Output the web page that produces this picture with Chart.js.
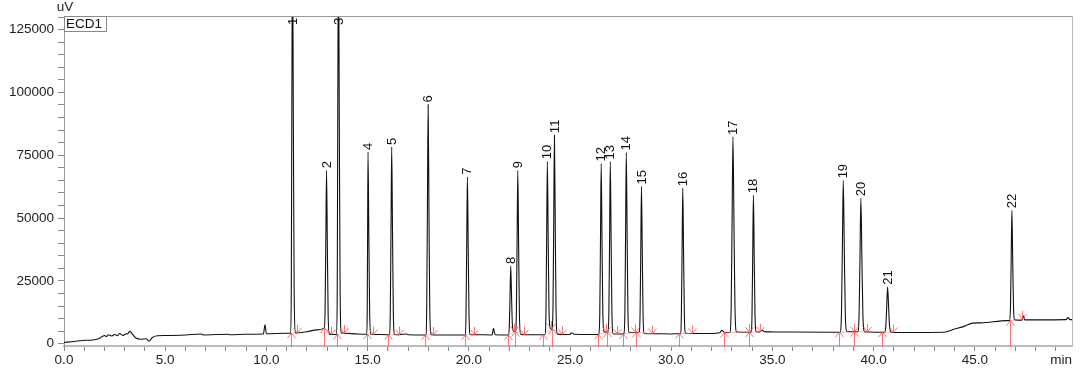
<!DOCTYPE html>
<html>
<head>
<meta charset="utf-8">
<script src="https://cdn.jsdelivr.net/npm/chart.js@4.4.1/dist/chart.umd.min.js"></script>
<style>
  html, body { margin: 0; padding: 0; background: #fff; }
  #wrap { width: 1080px; height: 380px; }
</style>
</head>
<body>
<div id="wrap"><canvas id="chrom" width="1080" height="380"></canvas></div>
<script>
// detector trace (min, uV)
const traceMin = [
  0.0, 0.5, 0.9, 1.4, 1.7, 1.9, 2.0, 2.1, 2.2, 2.35, 2.5, 2.65, 2.75, 2.9, 3.05, 3.15, 3.25, 3.4, 3.55, 3.8,
  4.05, 4.2, 4.35, 4.6, 5.0, 6.0, 6.8, 6.9, 8.1, 8.2, 9.0, 9.85, 9.93, 10.0, 11.0,
  11.2, 11.23, 11.255, 11.29, 11.33, 11.37, 11.43, 11.49,              // 1
  12.0, 12.5,
  12.86, 12.9, 12.935, 12.97, 13.01, 13.05, 13.11, 13.19,              // 2
  13.47, 13.5, 13.525, 13.56, 13.6, 13.64, 13.7, 13.85,                // 3
  14.5,
  14.96, 14.98, 15.0, 15.02, 15.06, 15.1, 15.16, 15.25,                // 4
  16.02, 16.07, 16.12, 16.155, 16.19, 16.23, 16.27, 16.33, 16.57,      // 5
  16.93, 17.0,
  17.84, 17.87, 17.92, 17.955, 17.99, 18.03, 18.07, 18.13, 18.22,      // 6
  19.0,
  19.8, 19.81, 19.86, 19.895, 19.93, 19.97, 20.01, 20.07, 20.26,       // 7
  21.15, 21.22, 21.3,
  21.95, 22.0, 22.035, 22.07, 22.11, 22.15, 22.21, 22.24,              // 8
  22.29, 22.3, 22.35, 22.385, 22.42, 22.46, 22.5, 22.56, 22.75,        // 9
  23.66, 23.76, 23.81, 23.845, 23.88, 23.92, 23.96, 24.02, 24.06,      // 10
  24.1, 24.11, 24.16, 24.195, 24.23, 24.27, 24.31, 24.37, 24.58,       // 11
  25.0, 25.06, 25.2, 26.0,
  26.38, 26.42, 26.47, 26.505, 26.54, 26.58, 26.62, 26.68, 26.79,      // 12
  26.82, 26.87, 26.92, 26.955, 26.99, 27.03, 27.07, 27.13, 27.32,      // 13
  27.62, 27.66, 27.71, 27.745, 27.78, 27.82, 27.86, 27.92, 28.22,      // 14
  28.27, 28.41, 28.46, 28.495, 28.53, 28.57, 28.61, 28.67, 29.06,      // 15
  30.0,
  30.37, 30.45, 30.5, 30.535, 30.57, 30.61, 30.65, 30.71, 31.03,       // 16
  32.0, 32.4, 32.5, 32.6,
  32.63, 32.89, 32.96, 33.005, 33.05, 33.1, 33.15, 33.23, 33.83,       // 17
  33.94, 33.99, 34.025, 34.06, 34.1, 34.14, 34.2, 34.37,               // 18
  34.49, 34.6, 35.0, 38.0,
  38.28, 38.34, 38.41, 38.455, 38.5, 38.55, 38.6, 38.68, 39.02,        // 19
  39.21, 39.28, 39.325, 39.37, 39.42, 39.47, 39.55, 39.68,             // 20
  40.0,
  40.42, 40.53, 40.6, 40.645, 40.69, 40.74, 40.79, 40.87, 40.97,       // 21
  43.5, 43.9, 44.5, 44.9, 45.3, 46.6,
  46.72, 46.76, 46.795, 46.83, 46.87, 46.91, 46.97, 47.33,             // 22
  47.4, 47.46, 48.0, 49.5, 49.6, 49.7, 49.8
];
const traceUV = [
  500, 900, 1300, 1500, 2000, 2900, 3300, 2900, 3600, 3100, 3700, 3200, 4100, 3300, 3900, 4000, 4900, 3600, 2300, 1800,
  2000, 1000, 2400, 3200, 3300, 3500, 3900, 3500, 3800, 3600, 3800, 3900, 7500, 4000, 4200,
  4200, 22900, 89900, 160000, 89900, 22900, 4400, 4300,
  4800, 5500,
  6300, 13800, 40800, 69000, 39600, 11500, 3800, 3700,
  3700, 22500, 89700, 160000, 90000, 23000, 4400, 4200,
  3900,
  3800, 12500, 43700, 76300, 43600, 12400, 3800, 3700,
  3600, 3600, 12600, 44700, 78300, 44700, 12600, 3700, 3600,
  3900, 3600,
  3500, 3500, 14500, 53900, 95200, 53900, 14500, 3700, 3500,
  3500,
  3500, 3500, 11000, 38100, 66400, 38100, 11000, 3700, 3600,
  3500, 6100, 3600,
  3500, 6800, 18600, 30900, 19200, 8000, 5000, 4900,
  4800, 4800, 12500, 40700, 69000, 39600, 11500, 3800, 3600,
  3600, 3600, 11900, 41600, 72600, 42600, 14000, 6200, 5900,
  5800, 5900, 15200, 48400, 83000, 47000, 13500, 3900, 3700,
  3700, 4400, 3800, 3700,
  3700, 3800, 11900, 41100, 71700, 41500, 12300, 4800, 4600,
  4600, 4700, 12800, 41900, 72500, 41600, 12200, 4000, 3900,
  3900, 4000, 12600, 43700, 76100, 44300, 13100, 4600, 4500,
  4500, 4600, 11600, 36600, 62600, 36200, 11000, 4100, 4000,
  3900,
  4000, 4000, 11000, 35800, 61900, 35900, 11100, 4200, 4100,
  4100, 4400, 5300, 4700,
  4500, 4500, 13800, 47300, 82300, 47300, 13900, 4700, 4600,
  4600, 11100, 34600, 59100, 34600, 11200, 4800, 4700,
  5400, 4800, 4700, 4600,
  4600, 4600, 11800, 37800, 65000, 37900, 11900, 4900, 4800,
  4800, 11200, 34000, 57900, 33900, 11100, 4800, 4700,
  4600,
  4600, 4600, 6800, 14600, 22700, 14500, 6700, 4600, 4500,
  4600, 5600, 7000, 8200, 8300, 9200,
  9200, 14500, 33400, 53100, 33500, 14600, 9500, 9400,
  11000, 9500, 9500, 9600, 10400, 9600, 9600
];

// labelled peaks
const peakLabels = ['1','2','3','4','5','6','7','8','9','10','11','12','13','14','15','16','17','18','19','20','21','22'];
const peakTime   = [11.29, 12.97, 13.56, 15.02, 16.19, 17.99, 19.93, 22.07, 22.42, 23.88, 24.23,
                    26.54, 26.99, 27.78, 28.53, 30.57, 33.05, 34.06, 38.5, 39.37, 40.69, 46.83];
const peakHeight = [160000, 69000, 160000, 76300, 78300, 95200, 66400, 30900, 69000, 72600, 83000,
                    71700, 72500, 76100, 62600, 61900, 82300, 59100, 65000, 57900, 22700, 53100];
// integration start / end marks
const peakStart = [11.2, 12.86, 13.47, 14.96, 16.02, 17.84, 19.8, 21.95, 22.29, 23.66, 24.1,
                   26.38, 26.82, 27.62, 28.27, 30.37, 32.63, 33.83, 38.28, 39.02, 40.42, 46.72];
const peakEnd   = [11.49, 13.19, 13.85, 15.25, 16.57, 18.22, 20.26, 22.24, 22.75, 24.06, 24.58,
                   26.79, 27.32, 28.22, 29.06, 31.03, 33.83, 34.37, 39.02, 39.68, 40.97, 47.35];

const xTickLabels = ['0.0', '5.0', '10.0', '15.0', '20.0', '25.0', '30.0', '35.0', '40.0', '45.0'];
const yTickLabels = ['0', '25000', '50000', '75000', '100000', '125000'];

const FONT = '"Liberation Sans", Arial, sans-serif';

function levelAt(t) {
  for (let i = 1; i < traceMin.length; i++) {
    if (t <= traceMin[i]) {
      const f = (t - traceMin[i - 1]) / (traceMin[i] - traceMin[i - 1]);
      return traceUV[i - 1] + f * (traceUV[i] - traceUV[i - 1]);
    }
  }
  return traceUV[traceUV.length - 1];
}

const decor = {
  id: 'decor',
  afterDatasetsDraw(chart) {
    const { ctx, chartArea: a, scales: { x, y } } = chart;
    ctx.save();
    ctx.lineWidth = 1;
    for (let i = 0; i < peakStart.length; i++) {
      const sx = Math.round(x.getPixelForValue(peakStart[i])) + 0.5;
      const sy = y.getPixelForValue(levelAt(peakStart[i]));
      const ex = Math.round(x.getPixelForValue(peakEnd[i])) + 0.5;
      const ey = y.getPixelForValue(levelAt(peakEnd[i]));
      // drawn baseline
      ctx.strokeStyle = 'rgba(255, 120, 120, 0.55)';
      ctx.beginPath(); ctx.moveTo(sx, sy); ctx.lineTo(ex, ey); ctx.stroke();
      ctx.strokeStyle = 'rgba(255, 90, 90, 0.85)';
      // up arrow at start
      ctx.beginPath();
      ctx.moveTo(sx, a.bottom + 1); ctx.lineTo(sx, sy);
      ctx.moveTo(sx - 4, sy + 5); ctx.lineTo(sx, sy); ctx.lineTo(sx + 4, sy + 5);
      ctx.stroke();
      // down arrow at end
      ctx.beginPath();
      ctx.moveTo(ex, ey - 8); ctx.lineTo(ex, ey);
      ctx.moveTo(ex - 4, ey - 5); ctx.lineTo(ex, ey); ctx.lineTo(ex + 4, ey - 5);
      ctx.stroke();
    }

    // peak numbers, rotated
    ctx.fillStyle = '#111';
    ctx.font = '13px ' + FONT;
    ctx.textAlign = 'left';
    ctx.textBaseline = 'middle';
    for (let i = 0; i < peakLabels.length; i++) {
      const px = x.getPixelForValue(peakTime[i]);
      const py = Math.max(y.getPixelForValue(peakHeight[i]) - 2, a.top + 9);
      ctx.save();
      ctx.translate(px + 0.5, py);
      ctx.rotate(-Math.PI / 2);
      ctx.fillText(peakLabels[i], 0, 0);
      ctx.restore();
    }
    ctx.restore();
  },
  afterDraw(chart) {
    const { ctx, chartArea: a } = chart;
    ctx.save();
    // frame top / right
    ctx.lineWidth = 1;
    ctx.strokeStyle = '#999';
    ctx.beginPath();
    ctx.moveTo(a.left, a.top + 0.5); ctx.lineTo(a.right + 0.5, a.top + 0.5);
    ctx.stroke();
    ctx.strokeStyle = '#bbb';
    ctx.beginPath();
    ctx.moveTo(a.right + 0.5, a.top); ctx.lineTo(a.right + 0.5, a.bottom);
    ctx.stroke();

    // ECD1 box
    ctx.strokeStyle = '#888';
    ctx.strokeRect(a.left + 0.5, a.top + 0.5, 42, 15);
    ctx.fillStyle = '#111';
    ctx.font = '13.5px ' + FONT;
    ctx.textAlign = 'left';
    ctx.textBaseline = 'middle';
    ctx.fillText('ECD1', a.left + 2, a.top + 8.5);

    // unit labels
    ctx.fillStyle = '#222';
    ctx.textAlign = 'center';
    ctx.textBaseline = 'top';
    ctx.fillText('uV', a.left + 1, 1);
    ctx.textAlign = 'right';
    ctx.fillText('min', a.right, a.bottom + 8);
    ctx.restore();
  }
};

new Chart(document.getElementById('chrom'), {
  type: 'line',
  data: {
    datasets: [{
      label: 'ECD1',
      data: traceMin.map((t, i) => ({ x: t, y: traceUV[i] })),
      borderColor: '#111',
      borderWidth: 1.1,
      pointRadius: 0,
      cubicInterpolationMode: 'monotone',
      fill: false
    }]
  },
  options: {
    responsive: false,
    animation: false,
    layout: { padding: { top: 16, right: 8, left: 0, bottom: 0 } },
    plugins: { legend: { display: false }, tooltip: { enabled: false } },
    scales: {
      x: {
        type: 'linear',
        min: 0,
        max: 49.8,
        afterFit: s => { s.height = 34; },
        afterBuildTicks: s => {
          const t = [];
          for (let v = 0; v <= 49; v++) t.push({ value: v });
          s.ticks = t;
        },
        ticks: {
          autoSkip: false,
          maxRotation: 0,
          padding: 1,
          color: '#222',
          font: { family: FONT, size: 13.5 },
          callback: v => (v % 5 === 0 ? xTickLabels[v / 5] : '')
        },
        grid: { drawOnChartArea: false, tickLength: 5, color: '#888' },
        border: { color: '#bbb', width: 2 }
      },
      y: {
        min: -900,
        max: 130400,
        afterFit: s => { s.width = 64; },
        afterBuildTicks: s => {
          const t = [];
          for (let v = 0; v <= 130000; v += 5000) t.push({ value: v });
          s.ticks = t;
        },
        ticks: {
          autoSkip: false,
          padding: 4,
          color: '#222',
          font: { family: FONT, size: 13.5 },
          callback: v => (v % 25000 === 0 ? yTickLabels[v / 25000] : '')
        },
        grid: { drawOnChartArea: false, tickLength: 6, color: '#888' },
        border: { color: '#999', width: 1 }
      }
    }
  },
  plugins: [decor]
});
</script>
</body>
</html>
